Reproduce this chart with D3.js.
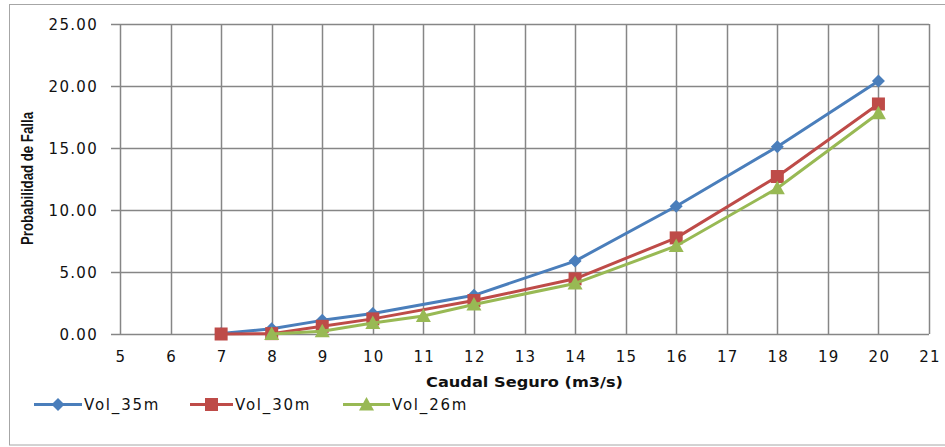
<!DOCTYPE html>
<html>
<head>
<meta charset="utf-8">
<script src="https://cdn.jsdelivr.net/npm/d3@7"></script>
<style>
  html, body { margin: 0; padding: 0; background: #fff; }
  svg { display: block; }
</style>
</head>
<body>
<svg id="chart" width="945" height="447"></svg>
<script>
// Caudal seguro (m3/s) vs probabilidad de falla (%) for three reservoir volumes
const xTicks = [5, 6, 7, 8, 9, 10, 11, 12, 13, 14, 15, 16, 17, 18, 19, 20, 21];
const yTicks = [0, 5, 10, 15, 20, 25];

const vol35X = [7, 8, 9, 10, 12, 14, 16, 18, 20];
const vol35Y = [0.05, 0.42, 1.1, 1.65, 3.12, 5.88, 10.3, 15.1, 20.4];

const vol30X = [7, 8, 9, 10, 12, 14, 16, 18, 20];
const vol30Y = [0.0, 0.03, 0.62, 1.22, 2.7, 4.45, 7.75, 12.7, 18.55];

const vol26X = [8, 9, 10, 11, 12, 14, 16, 18, 20];
const vol26Y = [0.0, 0.22, 0.88, 1.45, 2.38, 4.08, 7.1, 11.75, 17.8];

const seriesNames = ["Vol_35m", "Vol_30m", "Vol_26m"];
const seriesColors = ["#4A7EBB", "#BE4B48", "#98B954"];
const seriesShapes = ["diamond", "square", "triangle"];

const svg = d3.select("#chart");
const x = d3.scaleLinear().domain([5, 21]).range([120, 929]);
const y = d3.scaleLinear().domain([0, 25]).range([334, 24]);

const tickFont = "'DejaVu Sans', Verdana, sans-serif";

// outer frame
svg.append("rect")
  .attr("x", 9.5).attr("y", 4.5)
  .attr("width", 945).attr("height", 440.5)
  .attr("fill", "none").attr("stroke", "#a6a6a6").attr("stroke-width", 1);

// vertical grid lines
svg.append("g").selectAll("line").data(xTicks).join("line")
  .attr("x1", d => Math.round(x(d)) + 0.5).attr("x2", d => Math.round(x(d)) + 0.5)
  .attr("y1", y(25)).attr("y2", y(0))
  .attr("stroke", "#868686").attr("stroke-width", 1.5);

// horizontal grid lines with outward ticks on the left
svg.append("g").selectAll("line").data(yTicks).join("line")
  .attr("x1", x(5) - 9).attr("x2", x(21))
  .attr("y1", d => Math.round(y(d)) + 0.5).attr("y2", d => Math.round(y(d)) + 0.5)
  .attr("stroke", "#868686").attr("stroke-width", 1.5);

// y tick labels
svg.append("g").selectAll("text").data(yTicks).join("text")
  .attr("x", 98).attr("y", d => y(d) + 5.5)
  .attr("text-anchor", "end")
  .attr("font-family", tickFont).attr("font-size", 15)
  .attr("letter-spacing", 1.3)
  .attr("fill", "#111")
  .text(d => d3.format(".2f")(d));

// x tick labels
svg.append("g").selectAll("text").data(xTicks).join("text")
  .attr("x", d => x(d) + 1).attr("y", 362)
  .attr("text-anchor", "middle")
  .attr("font-family", tickFont).attr("font-size", 15)
  .attr("letter-spacing", 1.3)
  .attr("fill", "#111")
  .text(d => d);

// axis titles
svg.append("text")
  .attr("x", 524.5).attr("y", 386.5)
  .attr("text-anchor", "middle")
  .attr("font-family", tickFont).attr("font-size", 14).attr("font-weight", "bold")
  .attr("textLength", 197).attr("lengthAdjust", "spacingAndGlyphs")
  .attr("fill", "#111")
  .text("Caudal Seguro (m3/s)");

svg.append("text")
  .attr("transform", "translate(33,178.5) rotate(-90)")
  .attr("text-anchor", "middle")
  .attr("font-family", "'Liberation Sans Narrow', 'Liberation Sans', Arial, sans-serif")
  .attr("font-size", 16).attr("font-weight", "bold")
  .attr("textLength", 133).attr("lengthAdjust", "spacingAndGlyphs")
  .attr("fill", "#111")
  .text("Probabilidad de Falla");

// marker drawing
function marker(sel, shape, color) {
  if (shape === "diamond") {
    sel.append("path").attr("d", "M0,-6.5 L6.5,0 L0,6.5 L-6.5,0 Z").attr("fill", color);
  } else if (shape === "square") {
    sel.append("rect").attr("x", -6.5).attr("y", -6.5).attr("width", 13).attr("height", 13).attr("fill", color);
  } else {
    sel.append("path").attr("d", "M0,-7.5 L7.5,6 L-7.5,6 Z").attr("fill", color);
  }
}

const line = d3.line().x(d => x(d[0])).y(d => y(d[1]));
const allSeries = [
  d3.zip(vol35X, vol35Y),
  d3.zip(vol30X, vol30Y),
  d3.zip(vol26X, vol26Y)
];

allSeries.forEach((pts, i) => {
  const g = svg.append("g");
  g.append("path").datum(pts)
    .attr("d", line)
    .attr("fill", "none")
    .attr("stroke", seriesColors[i]).attr("stroke-width", 3)
    .attr("stroke-linejoin", "round");
  g.selectAll("g.pt").data(pts).join("g")
    .attr("class", "pt")
    .attr("transform", d => `translate(${x(d[0])},${y(d[1])})`)
    .each(function () { marker(d3.select(this), seriesShapes[i], seriesColors[i]); });
});

// legend
const legendX = [34, 190, 343];
const legendW = [48, 43, 47];
const legendY = 404.5;
seriesNames.forEach((name, i) => {
  const g = svg.append("g");
  g.append("line")
    .attr("x1", legendX[i]).attr("x2", legendX[i] + legendW[i])
    .attr("y1", legendY).attr("y2", legendY)
    .attr("stroke", seriesColors[i]).attr("stroke-width", 3);
  const m = g.append("g").attr("transform", `translate(${legendX[i] + legendW[i] / 2},${legendY})`);
  marker(m, seriesShapes[i], seriesColors[i]);
  g.append("text")
    .attr("x", legendX[i] + legendW[i] + 2).attr("y", legendY + 5.5)
    .attr("font-family", tickFont).attr("font-size", 15)
    .attr("letter-spacing", 1.8)
    .attr("fill", "#111")
    .text(name);
});
</script>
</body>
</html>
